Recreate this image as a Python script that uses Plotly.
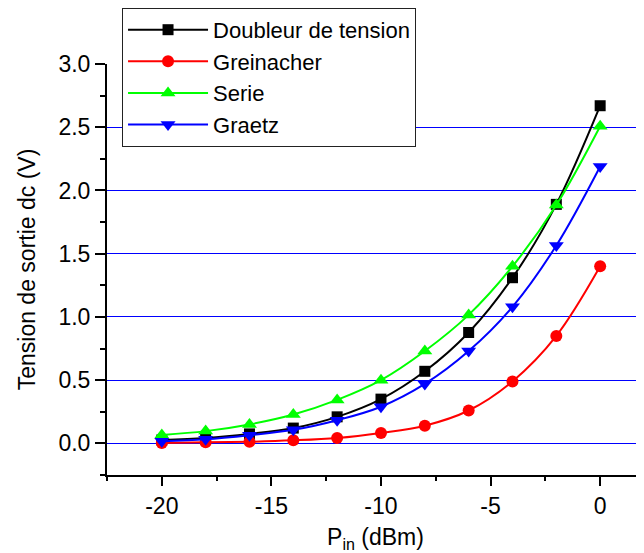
import plotly.graph_objects as go

# Puissance d'entree (dBm)
p_in = [-20, -18, -16, -14, -12, -10, -8, -6, -4, -2, 0]

# Tension de sortie dc (V) pour chaque redresseur
doubleur   = [0.027, 0.043, 0.075, 0.121, 0.21, 0.35, 0.57, 0.877, 1.31, 1.89, 2.67]
greinacher = [0.003, 0.008, 0.013, 0.024, 0.043, 0.083, 0.14, 0.26, 0.49, 0.85, 1.40]
serie      = [0.067, 0.097, 0.15, 0.228, 0.344, 0.50, 0.73, 1.016, 1.40, 1.885, 2.508]
graetz     = [0.016, 0.032, 0.065, 0.107, 0.183, 0.29, 0.47, 0.73, 1.08, 1.565, 2.19]

# graduations de l'axe x (trait d'union comme dans l'original)
x_ticks  = [-20, -15, -10, -5, 0]
x_labels = ["-20", "-15", "-10", "-5", "0"]

police = "Liberation Sans"

fig = go.Figure()

series = [
    ("Doubleur de tension", doubleur, "#000000", "square", 11),
    ("Greinacher", greinacher, "#FF0000", "circle", 12),
    ("Serie", serie, "#00FF00", "triangle-up", 13),
    ("Graetz", graetz, "#0000FF", "triangle-down", 13),
]

for nom, valeurs, couleur, symbole, taille in series:
    fig.add_trace(go.Scatter(x = p_in, y = valeurs, name = nom, mode = "lines+markers",
                             line = dict(color = couleur, width = 2, shape = "spline", smoothing = 1.0),
                             marker = dict(color = couleur, symbol = symbole, size = taille)))

# la page html ajoute une marge de 8 px : figure reduite d'autant
fig.update_layout(width = 636, height = 545,
                  margin = dict(l = 99, r = 0, t = 56, b = 78, autoexpand = False),
                  paper_bgcolor = "white", plot_bgcolor = "white",
                  font = dict(family = police, size = 23, color = "black"),
                  legend = dict(x = 0.028, y = 1.1365, xanchor = "left", yanchor = "top",
                                bgcolor = "white", bordercolor = "#222222", borderwidth = 1,
                                itemwidth = 80,
                                font = dict(family = police, size = 22), tracegroupgap = 0))

fig.update_xaxes(range = [-22.5, 2.0], tickmode = "array", tickvals = x_ticks, ticktext = x_labels,
                 showgrid = False, zeroline = False,
                 showline = True, linecolor = "black", linewidth = 2,
                 ticks = "outside", ticklen = 9, tickwidth = 2, tickcolor = "black",
                 minor = dict(dtick = 2.5, tick0 = 0, ticks = "outside", ticklen = 4, tickwidth = 2, tickcolor = "black"),
                 title = dict(text = "P<sub>in</sub> (dBm)", standoff = 14, font = dict(family = police, size = 23)))

fig.update_yaxes(range = [-0.25, 3.0], tick0 = 0, dtick = 0.5, tickformat = ".1f",
                 showgrid = True, gridcolor = "#0000FF", gridwidth = 1, zeroline = False,
                 showline = True, linecolor = "black", linewidth = 2,
                 ticks = "outside", ticklen = 10, tickwidth = 2, tickcolor = "black",
                 minor = dict(dtick = 0.25, tick0 = 0, ticks = "outside", ticklen = 5, tickwidth = 2,
                              tickcolor = "black", showgrid = False),
                 title = dict(text = "Tension de sortie dc (V)", standoff = 16, font = dict(family = police, size = 23)))

fig.write_html("out.html")
